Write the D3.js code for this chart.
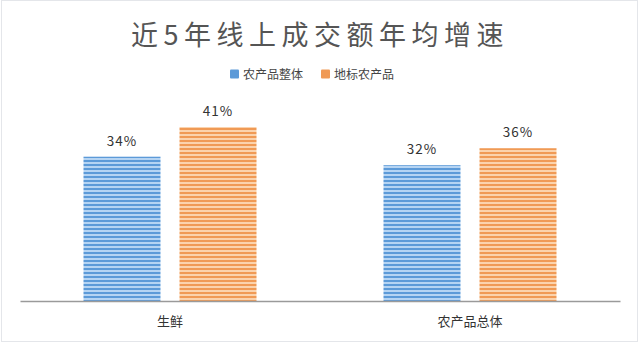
<!DOCTYPE html>
<html><head><meta charset="utf-8">
<script src="https://cdn.jsdelivr.net/npm/d3@7"></script>
<style>body{margin:0;background:#fff}svg{display:block}text{font-family:"Noto Sans CJK SC","Noto Sans",sans-serif}</style>
</head><body><svg id="c" width="640" height="344"></svg>
<script>
const categories = ["生鲜", "农产品总体"];
const seriesNames = ["农产品整体", "地标农产品"];
const series1 = [34, 32];
const series2 = [41, 36];
const title = "近5年线上成交额年均增速";

const svg = d3.select("#c");
const W = 640, H = 344;
const colors = [{dark:"#5c9ad8", light:"#b5d4f3"}, {dark:"#f09a55", light:"#fbd3ad"}];
const defs = svg.append("defs");
colors.forEach((c,i)=>{
  const p = defs.append("pattern").attr("id","p"+i).attr("patternUnits","userSpaceOnUse")
    .attr("width",8).attr("height",4);
  p.append("rect").attr("width",8).attr("height",4).attr("fill",c.light);
  p.append("rect").attr("y",0).attr("width",8).attr("height",2).attr("fill",c.dark);
});
svg.append("rect").attr("x",1.5).attr("y",0.5).attr("width",W-4).attr("height",H-3)
  .attr("fill","#fff").attr("stroke","#e4e6ea");

const baseY = 301;
const x0 = d3.scaleBand().domain(categories).range([20,620]);
const x1 = d3.scaleBand().domain(seriesNames).range([-86.5,86.5]).paddingInner(0.198);
const y = d3.scaleLinear().domain([0,41]).range([baseY, baseY-174]);

const data = categories.map((c,i)=>({c, vals:[series1[i], series2[i]]}));
const g = svg.selectAll("g.grp").data(data).join("g")
  .attr("transform", d=>`translate(${x0(d.c)+x0.bandwidth()/2},0)`);
g.selectAll("rect").data(d=>d.vals.map((v,j)=>({v,j}))).join("rect")
  .attr("x", d=>x1(seriesNames[d.j])).attr("width", x1.bandwidth())
  .attr("y", d=>y(d.v)).attr("height", d=>baseY-y(d.v))
  .attr("fill", d=>`url(#p${d.j})`);
g.selectAll("text.v").data(d=>d.vals.map((v,j)=>({v,j}))).join("text")
  .attr("class","v").attr("text-anchor","middle")
  .attr("x", d=>x1(seriesNames[d.j])+x1.bandwidth()/2)
  .attr("y", d=>y(d.v)-11).attr("font-size",13.5).attr("fill","#333")
  .attr("letter-spacing",1).text(d=>d.v+"%");

const axis = d3.axisBottom(x0).tickSize(0).tickPadding(16);
const ax = svg.append("g").attr("transform",`translate(0,${baseY})`).call(axis);
ax.select(".domain").attr("stroke","#9a9a9a").attr("stroke-width",1.5);
ax.selectAll("text").attr("font-size",13).attr("fill","#333")
  .style("font-family",'"Noto Sans CJK SC",sans-serif');

svg.append("text").attr("x",320).attr("y",45).attr("text-anchor","middle")
  .attr("font-size",27).attr("letter-spacing",5.5).attr("fill","#555").text(title);

const leg = svg.append("g");
const legX = [230, 321];
seriesNames.forEach((n,i)=>{
  leg.append("rect").attr("x",legX[i]).attr("y",69.5).attr("width",9).attr("height",9)
    .attr("rx",1).attr("fill",colors[i].dark);
  leg.append("text").attr("x",legX[i]+13).attr("y",78.5).attr("font-size",12)
    .attr("fill","#444").text(n);
});
</script></body></html>
